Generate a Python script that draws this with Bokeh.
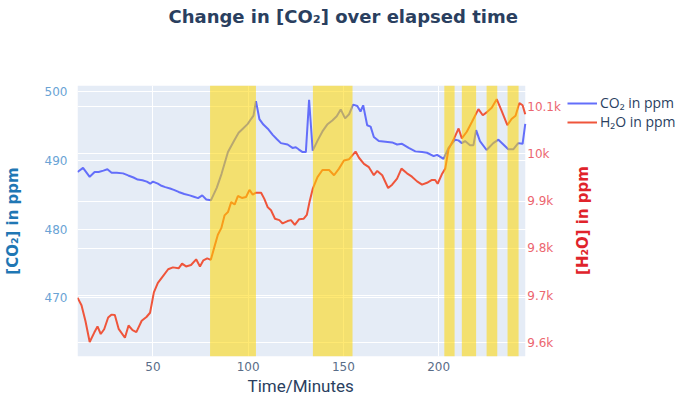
import math
from bokeh.plotting import figure
from bokeh.models import (Range1d, FixedTicker, Grid, BoxAnnotation,
                          Legend, LegendItem, Label, Title)
from bokeh.core.properties import value
from bokeh.embed import file_html
from bokeh.resources import INLINE

# ---------------- data ----------------
co2_time = [10.4, 13.3, 16.8, 19.4, 21.5, 24.0, 26.1, 28.3, 31.0, 34.3, 37.0, 39.8, 42.0,
            44.5, 46.8, 48.6, 50.0, 52.6, 54.5, 56.5, 59.0, 61.0, 63.5, 66.5, 69.3, 71.5,
            73.7, 75.9, 78.0, 80.5, 83.5, 86.0, 89.4, 92.9, 95.0, 97.2, 99.8, 101.5, 102.8,
            104.1, 105.9, 108.0, 110.3, 112.9, 115.0, 117.2, 120.7, 123.3, 125.0, 126.5,
            128.6, 130.3, 132.0, 133.9, 136.5, 139.0, 141.5, 144.2, 146.5, 148.6, 150.9,
            153.0, 155.1, 157.3, 159.0, 160.4, 162.5, 164.3, 166.0, 168.6, 172.1, 175.6,
            178.2, 180.8, 184.3, 187.8, 191.3, 193.9, 197.4, 199.2, 202.6, 205.2, 208.7,
            210.4, 212.2, 213.9, 216.5, 218.3, 219.7, 221.7, 225.2, 228.7, 231.4, 234.0,
            236.6, 239.2, 241.8, 244.1, 245.5]
co2_ppm = [488.3, 488.9, 487.6, 488.3, 488.3, 488.5, 488.7, 488.2, 488.2, 488.1, 487.8, 487.5,
           487.2, 487.1, 486.9, 486.6, 486.9, 486.6, 486.3, 486.1, 485.9, 485.7, 485.4, 485.1,
           484.9, 484.7, 484.5, 484.9, 484.3, 484.2, 486.0, 488.0, 491.2, 493.0, 494.0, 494.6,
           495.3, 496.0, 496.5, 498.6, 496.0, 495.2, 494.6, 493.7, 493.1, 492.5, 492.3, 491.8,
           491.9, 491.6, 491.2, 491.2, 498.8, 491.4, 492.9, 494.2, 495.2, 495.8, 496.4, 497.4,
           496.1, 496.7, 498.1, 497.9, 497.1, 498.0, 495.1, 494.9, 493.4, 492.8, 492.7, 492.6,
           492.3, 492.4, 491.8, 491.3, 491.2, 491.1, 490.6, 490.8, 490.2, 491.8, 493.0, 492.9,
           492.5, 492.8, 492.2, 492.2, 494.4, 492.8, 491.5, 492.5, 493.0, 492.3, 491.6, 491.6,
           492.5, 492.4, 495.3]

h2o_time = [10.4, 12.5, 14.6, 16.8, 19.2, 20.9, 22.6, 24.4, 26.5, 28.2, 30.0, 32.0, 35.3,
            37.2, 39.3, 41.3, 44.1, 46.6, 48.5, 50.5, 52.6, 55.2, 58.0, 60.5, 63.5, 65.3,
            67.4, 70.0, 72.7, 74.7, 76.5, 78.5, 80.4, 82.4, 84.1, 85.9, 87.6, 89.4, 91.1,
            92.9, 94.6, 96.7, 98.9, 100.7, 102.4, 104.1, 106.8, 108.5, 110.3, 112.0, 114.1,
            116.4, 118.1, 120.7, 122.5, 124.5, 126.8, 129.2, 130.8, 132.3, 133.9, 136.4,
            139.0, 142.5, 145.1, 147.7, 150.3, 153.0, 156.4, 158.2, 160.8, 163.4, 166.0,
            167.8, 170.4, 173.5, 175.6, 178.2, 180.5, 183.4, 186.0, 188.7, 191.3, 193.9,
            196.5, 198.2, 199.5, 201.7, 203.5, 205.2, 207.8, 210.5, 212.2, 214.8, 217.4,
            220.9, 223.2, 225.2, 227.9, 230.5, 233.1, 236.1, 238.3, 240.4, 242.4, 244.1, 245.5]
h2o_ppm = [9696, 9680, 9646, 9602, 9622, 9635, 9619, 9629, 9654, 9660, 9659, 9630, 9611,
           9637, 9627, 9623, 9647, 9655, 9664, 9707, 9727, 9741, 9756, 9760, 9758, 9768,
           9762, 9765, 9777, 9762, 9775, 9779, 9776, 9805, 9829, 9843, 9870, 9877, 9898,
           9893, 9911, 9907, 9909, 9924, 9914, 9918, 9918, 9905, 9887, 9881, 9863, 9860,
           9853, 9858, 9860, 9850, 9862, 9863, 9871, 9900, 9926, 9951, 9966, 9966, 9955,
           9969, 9986, 9989, 10005, 9992, 9979, 9972, 9955, 9964, 9955, 9928, 9935, 9948,
           9969, 9959, 9952, 9942, 9935, 9939, 9945, 9945, 9937, 9957, 9969, 10010, 10030,
           10054, 10033, 10047, 10067, 10095, 10082, 10088, 10098, 10116, 10091, 10061,
           10074, 10081, 10108, 10103, 10084]

band_start = [80.0, 134.0, 203.0, 212.2, 225.2, 236.2]
band_end = [104.1, 154.8, 208.4, 219.7, 230.8, 242.0]

x_ticks = [50, 100, 150, 200]
co2_ticks = [470, 480, 490, 500]
h2o_ticks = [9600, 9700, 9800, 9900, 10000, 10100]
h2o_tick_labels = ["9.6k", "9.7k", "9.8k", "9.9k", "10k", "10.1k"]

title_text = "Change in  [CO\u2082] over elapsed time"
x_title = "Time/Minutes"
co2_title = "[CO\u2082] in ppm"
h2o_title = "[H\u2082O] in ppm"
co2_name = "CO\u2082 in ppm"
h2o_name = "H\u2082O in ppm"

# ---------------- layout constants (pixels) ----------------
W, H = 676, 395
LEFT, TOP, BOTTOM = 74, 85, 38
AREA_W = 450                      # width of the shaded plotting area
FRAME_W = W - LEFT                # frame runs to the right edge
FRAME_H = H - TOP - BOTTOM

x_min = min(co2_time[0], h2o_time[0])
x_max = max(co2_time[-1], h2o_time[-1])
x_end = x_min + (x_max - x_min) * FRAME_W / AREA_W

p = figure(width=W, height=H, output_backend="svg", toolbar_location=None,
           x_range=Range1d(x_min, x_end), y_range=Range1d(461.47, 500.88),
           min_border_left=LEFT, min_border_right=0, min_border_top=TOP,
           min_border_bottom=BOTTOM)
p.extra_y_ranges = {"h2o": Range1d(9571.4, 10144.9)}
p.background_fill_color = "white"
p.border_fill_color = "white"
p.outline_line_color = None

# shaded plotting area (up to the last sample)
p.add_layout(BoxAnnotation(right=x_max, fill_color="#E5ECF6", fill_alpha=1.0,
                           line_alpha=0, level="image"))

# title (a thin spacer panel between the title and the plot pushes it to the top)
p.add_layout(Title(text=" ", standoff=50, text_font_size="1px",
                   text_color="white"), "above")
p.title.text = title_text
p.title.align = "left"
p.title.offset = 91
p.title.vertical_align = "top"
p.title.standoff = 8
p.title.text_font = "DejaVu Sans"
p.title.text_font_style = "bold"
p.title.text_font_size = "18px"
p.title.text_color = "#2a3f5f"

TICK_FONT = "DejaVu Sans"

# x axis
xa = p.xaxis[0]
xa.ticker = FixedTicker(ticks=x_ticks)
xa.axis_line_color = None
xa.major_tick_line_color = None
xa.minor_tick_line_color = None
xa.major_tick_out = 0
xa.major_tick_in = 0
xa.major_label_standoff = 5
xa.major_label_text_font = TICK_FONT
xa.major_label_text_font_size = "12px"
xa.major_label_text_color = "#5a6d88"

p.add_layout(Title(text=x_title, align="left", offset=170, standoff=0,
                   text_font="Roboto", text_font_style="normal",
                   text_font_size="17px", text_color="#2a3f5f"), "below")

# left axis
ya = p.yaxis[0]
ya.ticker = FixedTicker(ticks=co2_ticks)
ya.axis_line_color = None
ya.major_tick_line_color = None
ya.minor_tick_line_color = None
ya.major_tick_out = 0
ya.major_tick_in = 0
ya.major_label_standoff = 10
ya.major_label_text_font = TICK_FONT
ya.major_label_text_font_size = "12px"
ya.major_label_text_color = "#6aa3d5"
ya.axis_label = co2_title
ya.axis_label_standoff = 20
ya.axis_label_text_font = "DejaVu Sans"
ya.axis_label_text_font_style = "bold"
ya.axis_label_text_font_size = "15px"
ya.axis_label_text_color = "#1f77b4"

# grids (white; invisible on the white part of the frame)
for g in (p.xgrid[0], p.ygrid[0]):
    g.grid_line_color = "white"
    g.grid_line_width = 1
p.xgrid[0].ticker = xa.ticker
p.ygrid[0].ticker = ya.ticker
p.add_layout(Grid(dimension=1, ticker=FixedTicker(ticks=h2o_ticks), y_range_name="h2o",
                  grid_line_color="white", grid_line_width=1))

# lines
r_co2 = p.line(co2_time, co2_ppm, line_color="#636EFA", line_width=2)
r_h2o = p.line(h2o_time, h2o_ppm, line_color="#EF553B", line_width=2, y_range_name="h2o")

# highlighted periods
for s, e in zip(band_start, band_end):
    p.add_layout(BoxAnnotation(left=s, right=e, fill_color="#FFD700", fill_alpha=0.55,
                               line_alpha=0))

# secondary (H2O) axis labels, placed just right of the shaded area
p.text(x=[x_max] * len(h2o_ticks), y=h2o_ticks, text=h2o_tick_labels,
       y_range_name="h2o", x_offset=2, text_align="left", text_baseline="middle",
       text_font=value(TICK_FONT), text_font_size="12px", text_color="#ec6670")
p.add_layout(Label(x=x_max, x_units="data", y=FRAME_H / 2, y_units="screen",
                   x_offset=58, text=h2o_title, angle=math.pi / 2,
                   text_align="center", text_baseline="middle",
                   text_font="DejaVu Sans", text_font_style="bold",
                   text_font_size="15px", text_color="#e0232b"))

# legend
legend = Legend(items=[LegendItem(label=co2_name, renderers=[r_co2]),
                       LegendItem(label=h2o_name, renderers=[r_h2o])],
                location=(490, TOP + FRAME_H - 132), padding=0, margin=0, spacing=0,
                label_height=18, glyph_height=18, glyph_width=30, label_standoff=3,
                label_text_font="Open Sans", label_text_font_size="14px",
                label_text_color="#2a3f5f", border_line_color=None,
                background_fill_alpha=0)
p.add_layout(legend, "center")

open("out.html", "w").write(file_html(p, INLINE))
